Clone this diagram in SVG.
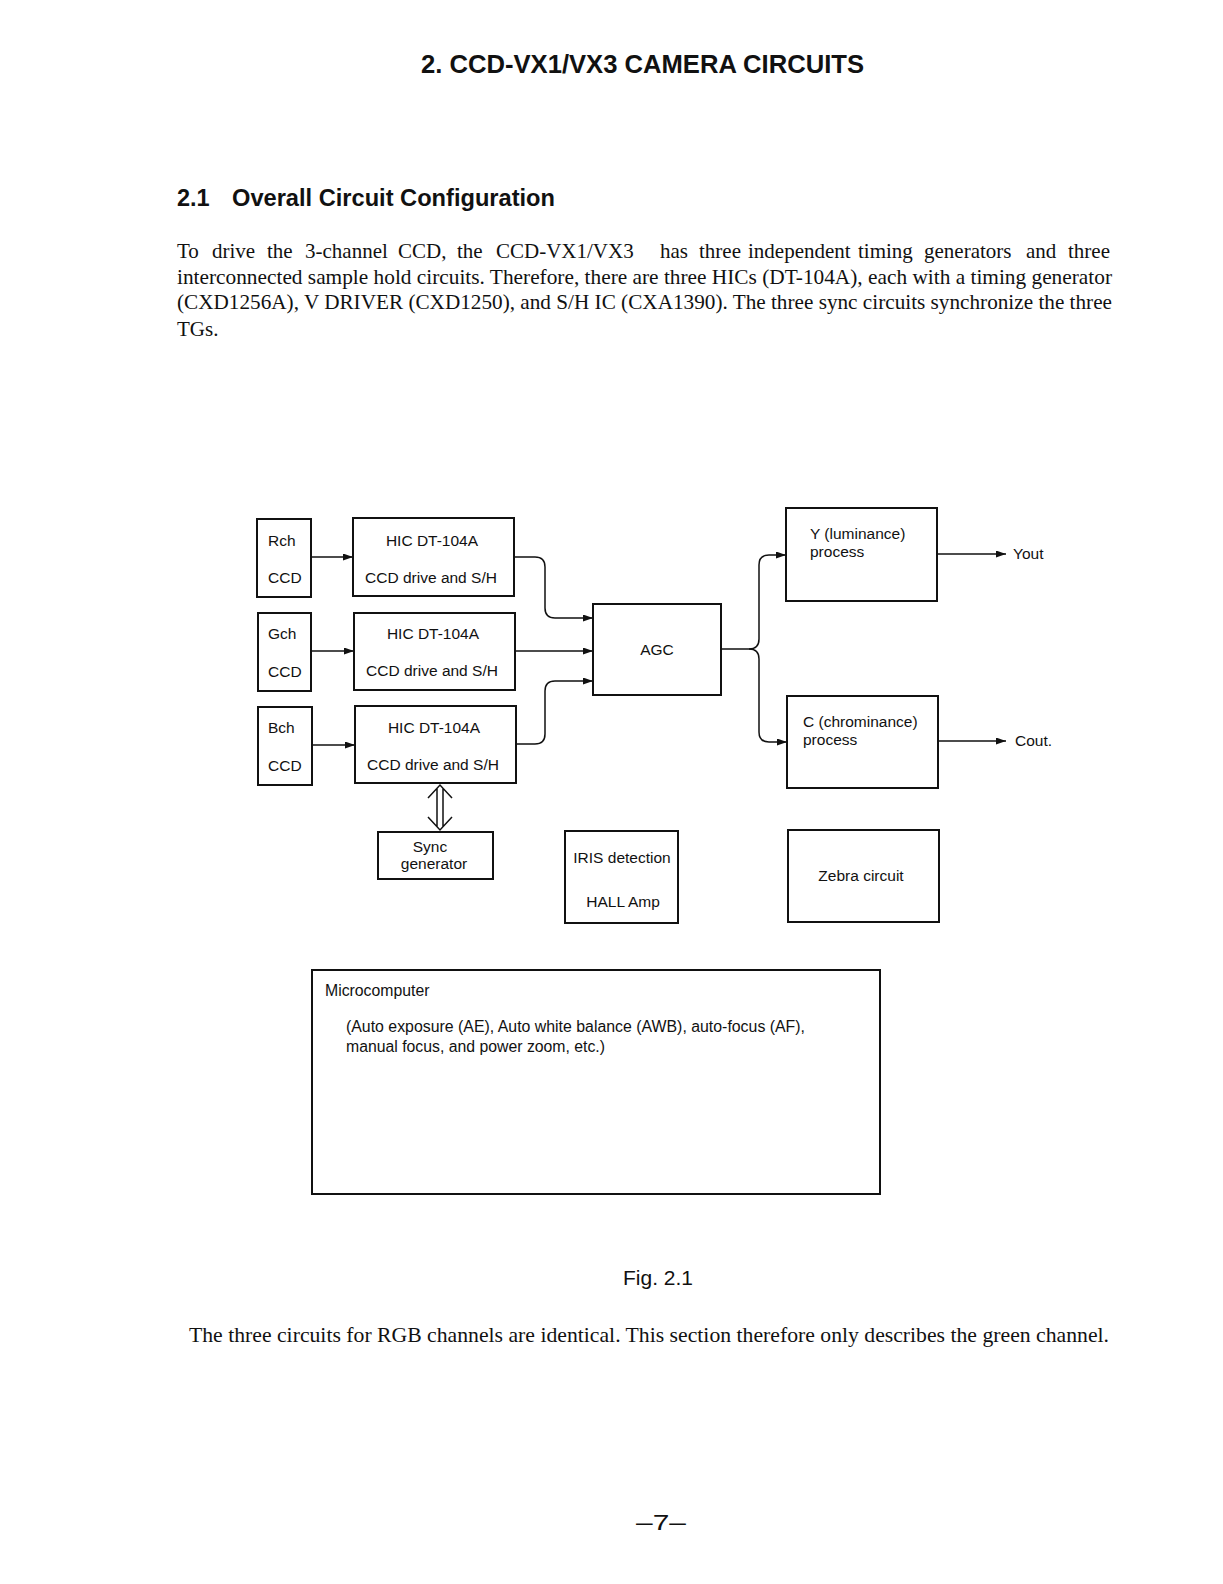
<svg xmlns="http://www.w3.org/2000/svg" width="1223" height="1584" viewBox="0 0 1223 1584">
<style>
.box{fill:none;stroke:#111;stroke-width:2}
.ln{fill:none;stroke:#111;stroke-width:1.5}
.lb{font-family:"Liberation Sans",Arial,sans-serif;font-size:15.5px;fill:#111}
.mc{font-family:"Liberation Sans",Arial,sans-serif;font-size:15.8px;fill:#111}
.fig{font-family:"Liberation Sans",Arial,sans-serif;font-size:21px;fill:#111}
.pg{font-family:"Liberation Sans",Arial,sans-serif;font-size:22px;fill:#111}
.mid{text-anchor:middle}
.serif{font-family:"Liberation Serif","Times New Roman",serif;font-size:21px;fill:#111}
.hd{font-family:"Liberation Sans",Arial,sans-serif;font-weight:bold;fill:#111}
</style>
<defs>
<marker id="ah" markerWidth="11" markerHeight="8" refX="10" refY="3.5" orient="auto" markerUnits="userSpaceOnUse">
<path d="M0,0 L10,3.5 L0,7 z" fill="#111"/>
</marker>
</defs>
<rect width="1223" height="1584" fill="#fff"/>

<text class="hd" x="421" y="73" font-size="25" textLength="443" lengthAdjust="spacingAndGlyphs">2. CCD-VX1/VX3 CAMERA CIRCUITS</text>
<text class="hd" x="177" y="206" font-size="23.5">2.1</text>
<text class="hd" x="232" y="206" font-size="23.5" textLength="323" lengthAdjust="spacingAndGlyphs">Overall Circuit Configuration</text>

<text class="serif" y="258"><tspan x="177">To</tspan><tspan x="212">drive</tspan><tspan x="267">the</tspan><tspan x="305">3-channel</tspan><tspan x="398">CCD,</tspan><tspan x="457">the</tspan><tspan x="496">CCD-VX1/VX3</tspan><tspan x="660">has</tspan><tspan x="699">three</tspan><tspan x="748">independent</tspan><tspan x="858">timing</tspan><tspan x="924">generators</tspan><tspan x="1026">and</tspan><tspan x="1068">three</tspan></text>
<text class="serif" x="177" y="284" textLength="935" lengthAdjust="spacingAndGlyphs">interconnected sample hold circuits. Therefore, there are three HICs (DT-104A), each with a timing generator</text>
<text class="serif" x="177" y="309" textLength="935" lengthAdjust="spacingAndGlyphs">(CXD1256A), V DRIVER (CXD1250), and S/H IC (CXA1390). The three sync circuits synchronize the three</text>
<text class="serif" x="177" y="336">TGs.</text>

<g id="connectors">
<line class="ln" x1="311" y1="557" x2="353" y2="557" marker-end="url(#ah)"/>
<line class="ln" x1="311" y1="651" x2="354" y2="651" marker-end="url(#ah)"/>
<line class="ln" x1="312" y1="745" x2="355" y2="745" marker-end="url(#ah)"/>
<path class="ln" d="M514,557 H535 Q545,557 545,567 V608 Q545,618 555,618 H593" marker-end="url(#ah)"/>
<line class="ln" x1="515" y1="651" x2="593" y2="651" marker-end="url(#ah)"/>
<path class="ln" d="M516,744 H535 Q545,744 545,734 V691 Q545,681 555,681 H593" marker-end="url(#ah)"/>
<path class="ln" d="M721,649 H749 Q759,649 759,639 V565 Q759,555 769,555 H786" marker-end="url(#ah)"/>
<path class="ln" d="M749,649 Q759,649 759,659 V732 Q759,742 769,742 H787" marker-end="url(#ah)"/>
<line class="ln" x1="937" y1="554" x2="1006" y2="554" marker-end="url(#ah)"/>
<line class="ln" x1="938" y1="741" x2="1006" y2="741" marker-end="url(#ah)"/>
<path class="ln" d="M428,798 L440,785 L452,798 M428,817 L440,830 L452,817 M437,788 V827 M443,788 V827"/>
</g>

<g id="rch"><rect class="box" x="257" y="519" width="54" height="78"/><text class="lb" x="268" y="546">Rch</text><text class="lb" x="268" y="583">CCD</text></g>
<g id="gch"><rect class="box" x="258" y="613" width="53" height="78"/><text class="lb" x="268" y="639">Gch</text><text class="lb" x="268" y="677">CCD</text></g>
<g id="bch"><rect class="box" x="258" y="707" width="54" height="78"/><text class="lb" x="268" y="733">Bch</text><text class="lb" x="268" y="771">CCD</text></g>

<g id="hic-r"><rect class="box" x="353" y="518" width="161" height="78"/><text class="lb mid" x="432" y="546">HIC DT-104A</text><text class="lb mid" x="431" y="583">CCD drive and S/H</text></g>
<g id="hic-g"><rect class="box" x="354" y="613" width="161" height="77"/><text class="lb mid" x="433" y="639">HIC DT-104A</text><text class="lb mid" x="432" y="676">CCD drive and S/H</text></g>
<g id="hic-b"><rect class="box" x="355" y="706" width="161" height="77"/><text class="lb mid" x="434" y="733">HIC DT-104A</text><text class="lb mid" x="433" y="770">CCD drive and S/H</text></g>

<g id="agc"><rect class="box" x="593" y="604" width="128" height="91"/><text class="lb mid" x="657" y="655">AGC</text></g>
<g id="y-proc"><rect class="box" x="786" y="508" width="151" height="93"/><text class="lb" x="810" y="539">Y (luminance)</text><text class="lb" x="810" y="557">process</text></g>
<text class="lb" x="1013" y="559">Yout</text>
<g id="c-proc"><rect class="box" x="787" y="696" width="151" height="92"/><text class="lb" x="803" y="727">C (chrominance)</text><text class="lb" x="803" y="745">process</text></g>
<text class="lb" x="1015" y="746">Cout.</text>

<g id="sync"><rect class="box" x="378" y="832" width="115" height="47"/><text class="lb mid" x="430" y="852">Sync</text><text class="lb mid" x="434" y="869">generator</text></g>
<g id="iris"><rect class="box" x="565" y="831" width="113" height="92"/><text class="lb mid" x="622" y="863">IRIS detection</text><text class="lb mid" x="623" y="907">HALL Amp</text></g>
<g id="zebra"><rect class="box" x="788" y="830" width="151" height="92"/><text class="lb mid" x="861" y="881">Zebra circuit</text></g>

<g id="micro"><rect class="box" x="312" y="970" width="568" height="224"/>
<text class="mc" x="325" y="996">Microcomputer</text>
<text class="mc" x="346" y="1032" textLength="459" lengthAdjust="spacingAndGlyphs">(Auto exposure (AE), Auto white balance (AWB), auto-focus (AF),</text>
<text class="mc" x="346" y="1052">manual focus, and power zoom, etc.)</text></g>

<text class="fig" x="623" y="1285">Fig. 2.1</text>
<text class="serif" x="189" y="1342" textLength="920" lengthAdjust="spacingAndGlyphs">The three circuits for RGB channels are identical. This section therefore only describes the green channel.</text>
<text class="pg" x="636" y="1530" textLength="50" lengthAdjust="spacingAndGlyphs">–7–</text>
</svg>
